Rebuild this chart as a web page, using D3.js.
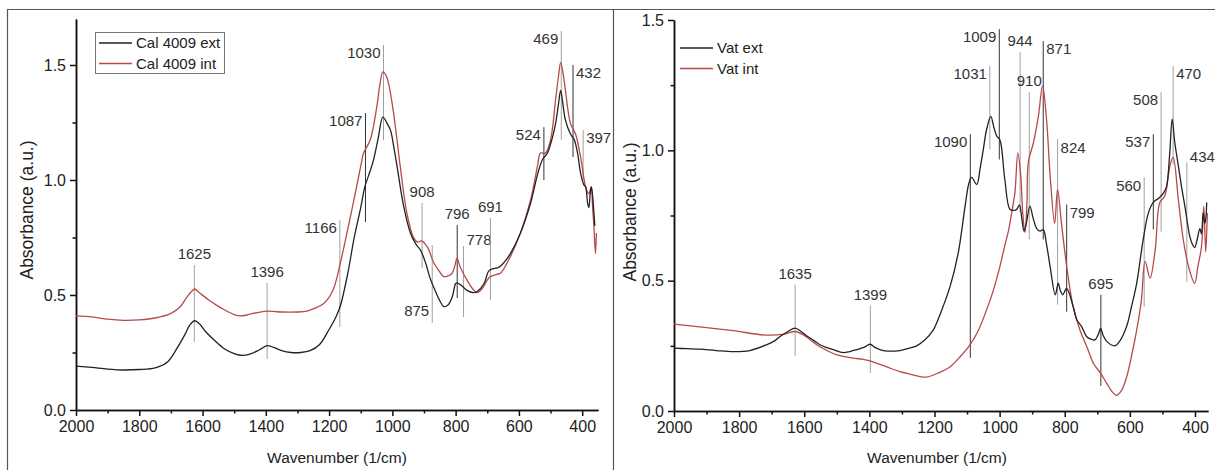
<!DOCTYPE html>
<html lang="en">
<head>
<meta charset="UTF-8">
<title>FTIR spectra</title>
<script src="https://d3js.org/d3.v7.min.js"></script>
<style>
  body { margin: 0; background: #fff; }
  svg { display: block; font-family: "Liberation Sans", Arial, sans-serif; }
  .frame { fill: none; stroke: #555; stroke-width: 1.2px; }
  .axis path, .axis line { stroke: #111; stroke-width: 1.5px; }
  .axis text { font-family: "Liberation Sans Narrow", "Liberation Sans", Arial, sans-serif; font-size: 16px; fill: #222; }
  .spec { fill: none; stroke-width: 1.3px; stroke-linejoin: round; }
  .peak text { font-family: "Liberation Sans Narrow", "Liberation Sans", Arial, sans-serif; font-size: 15px; fill: #333; }
  .legend text { font-size: 15px; fill: #222; }
  .title { font-size: 15.5px; fill: #222; }
  .ytitle { font-size: 17.5px; }
</style>
</head>
<body>
<div id="chart"></div>
<script>
// ---- left panel: Cal 4009, [wavenumber, absorbance]
const calExt = [[2000,0.191],[1950,0.185],[1900,0.178],[1850,0.174],[1800,0.176],[1750,0.183],[1710,0.21],[1680,0.27],[1655,0.33],[1640,0.37],[1625,0.388],[1610,0.375],[1590,0.34],[1560,0.30],[1530,0.265],[1500,0.245],[1480,0.238],[1450,0.243],[1420,0.262],[1396,0.28],[1375,0.272],[1350,0.258],[1320,0.25],[1290,0.25],[1260,0.258],[1230,0.285],[1200,0.35],[1180,0.40],[1165,0.45],[1140,0.60],[1122,0.74],[1100,0.88],[1087,0.97],[1070,1.04],[1059,1.09],[1045,1.18],[1030,1.273],[1018,1.25],[1006,1.217],[995,1.14],[985,1.058],[964,0.884],[943,0.77],[925,0.72],[911,0.695],[895,0.64],[880,0.57],[865,0.52],[850,0.475],[838,0.45],[825,0.455],[811,0.49],[800,0.55],[795,0.553],[785,0.545],[764,0.52],[745,0.51],[732,0.515],[710,0.55],[695,0.605],[680,0.615],[664,0.62],[645,0.645],[627,0.68],[595,0.77],[563,0.90],[540,1.03],[525,1.09],[510,1.117],[495,1.18],[484,1.246],[475,1.33],[468,1.39],[460,1.32],[453,1.26],[437,1.20],[425,1.175],[415,1.12],[405,1.03],[395,0.98],[389,0.97],[383,0.90],[379,0.88],[374,0.95],[371,0.97],[367,0.93],[363,0.86],[360,0.80]];
const calInt = [[2000,0.409],[1950,0.405],[1900,0.395],[1850,0.39],[1800,0.392],[1750,0.40],[1700,0.42],[1670,0.45],[1650,0.49],[1635,0.515],[1625,0.526],[1610,0.51],[1580,0.478],[1555,0.455],[1530,0.435],[1500,0.415],[1480,0.409],[1460,0.413],[1440,0.42],[1410,0.428],[1395,0.43],[1370,0.428],[1350,0.426],[1300,0.426],[1270,0.43],[1250,0.44],[1220,0.46],[1200,0.49],[1185,0.53],[1166,0.63],[1145,0.76],[1122,0.91],[1100,1.06],[1091,1.117],[1070,1.174],[1049,1.32],[1040,1.41],[1030,1.47],[1020,1.455],[1012,1.42],[996,1.29],[975,1.058],[954,0.855],[933,0.75],[920,0.73],[908,0.735],[890,0.71],[869,0.64],[850,0.60],[838,0.58],[820,0.585],[811,0.595],[800,0.64],[796,0.66],[785,0.62],[764,0.565],[745,0.525],[732,0.51],[715,0.53],[700,0.565],[690,0.58],[670,0.59],[658,0.595],[627,0.667],[595,0.77],[563,0.913],[540,1.07],[532,1.117],[516,1.117],[500,1.174],[484,1.35],[475,1.45],[468,1.51],[460,1.46],[453,1.39],[437,1.246],[421,1.20],[405,1.10],[389,0.97],[379,0.94],[374,0.96],[371,0.97],[367,0.88],[363,0.80],[358,0.68],[355,0.77]];

// ---- right panel: Vat
const vatExt = [[2000,0.241],[1960,0.239],[1920,0.237],[1870,0.232],[1818,0.228],[1767,0.232],[1716,0.254],[1690,0.27],[1674,0.286],[1650,0.305],[1628,0.318],[1610,0.305],[1592,0.288],[1570,0.27],[1552,0.254],[1530,0.243],[1511,0.235],[1480,0.224],[1460,0.228],[1439,0.235],[1415,0.245],[1398,0.256],[1380,0.242],[1357,0.232],[1306,0.232],[1280,0.24],[1255,0.25],[1230,0.272],[1204,0.31],[1180,0.38],[1152,0.478],[1127,0.607],[1106,0.786],[1095,0.87],[1086,0.896],[1070,0.869],[1060,0.93],[1050,1.004],[1040,1.08],[1027,1.13],[1018,1.09],[1009,1.055],[999,1.04],[984,0.888],[968,0.773],[955,0.77],[948,0.773],[939,0.79],[932,0.74],[925,0.69],[918,0.72],[907,0.786],[897,0.74],[886,0.70],[876,0.69],[866,0.696],[856,0.64],[845,0.555],[829,0.446],[820,0.49],[813,0.46],[806,0.446],[794,0.47],[774,0.40],[763,0.35],[748,0.324],[733,0.286],[718,0.275],[707,0.273],[695,0.30],[690,0.318],[682,0.29],[671,0.267],[646,0.25],[630,0.27],[610,0.324],[595,0.40],[579,0.49],[559,0.658],[543,0.76],[528,0.80],[508,0.82],[495,0.84],[487,0.863],[478,0.98],[470,1.12],[462,1.03],[451,0.94],[440,0.85],[431,0.786],[416,0.67],[408,0.64],[401,0.627],[393,0.66],[385,0.70],[380,0.68],[375,0.76],[370,0.72],[367,0.735],[364,0.80]];
const vatInt = [[2000,0.333],[1900,0.32],[1818,0.308],[1716,0.291],[1660,0.295],[1628,0.305],[1600,0.29],[1562,0.254],[1530,0.232],[1500,0.215],[1450,0.203],[1420,0.198],[1398,0.192],[1370,0.18],[1340,0.166],[1306,0.151],[1270,0.14],[1244,0.132],[1224,0.13],[1190,0.145],[1152,0.17],[1120,0.21],[1091,0.254],[1065,0.31],[1040,0.388],[1020,0.46],[999,0.555],[985,0.63],[973,0.69],[963,0.76],[953,0.838],[944,0.99],[935,0.90],[929,0.76],[922,0.685],[916,0.80],[912,0.953],[896,1.03],[881,1.13],[868,1.247],[856,1.12],[844,0.888],[831,0.72],[822,0.85],[810,0.72],[794,0.555],[774,0.40],[753,0.31],[730,0.24],[712,0.183],[690,0.145],[671,0.106],[655,0.075],[641,0.06],[625,0.08],[610,0.13],[595,0.21],[579,0.31],[565,0.42],[553,0.574],[538,0.51],[522,0.62],[508,0.80],[493,0.824],[477,0.94],[467,0.973],[451,0.81],[436,0.658],[420,0.555],[401,0.49],[391,0.555],[380,0.63],[373,0.786],[367,0.61],[362,0.76]];

// peak markers (line position in 1/cm, line extent in absorbance, label side)
const calPeakLabels = ["1625","1396","1166","1087","1030","908","875","796","778","691","524","469","432","397"];
const calPeakAt     = [1626,1396,1166,1085,1028,906,874,795,775,690,521,466,429,397];
const calPeakTop    = [0.63,0.552,0.826,1.291,1.587,0.90,0.717,0.804,0.713,0.835,1.23,1.648,1.50,1.217];
const calPeakBottom = [0.296,0.222,0.361,0.817,1.174,0.617,0.378,0.487,0.404,0.478,1.0,1.174,1.10,1.0];
const calPeakSide   = ["c","c","l","l","l","c","lb","c","ra","c","l","l","r","r"];
const calPeakDark   = ["1087","796","524","432"];

const vatPeakLabels = ["1635","1399","1090","1031","1009","944","910","871","824","799","695","560","537","508","470","434"];
const vatPeakAt     = [1628,1397,1090,1030,1001,937,909,866,822,794,689,556,528,504,467,425];
const vatPeakTop    = [0.485,0.404,1.062,1.323,1.465,1.377,1.223,1.419,1.042,0.792,0.446,0.896,1.062,1.223,1.323,0.954];
const vatPeakBottom = [0.212,0.146,0.204,1.004,0.965,0.762,0.658,0.658,0.408,0.381,0.096,0.40,0.696,0.688,0.946,0.496];
const vatPeakSide   = ["c","c","l","l","l","c","c","r","r","r","c","l","l","l","r","ra"];
const vatPeakDark   = ["1090","1009","799","695","537","871"];

const xMajor = [2000,1800,1600,1400,1200,1000,800,600,400];
const xMinor = [1900,1700,1500,1300,1100,900,700,500];
const yMajor = [0, 0.5, 1.0, 1.5];
const yMinor = [0.25, 0.75, 1.25];

const extColor = "#222", intColor = "#b8494a";

const W = 1215, H = 470;
const svg = d3.select("#chart").append("svg").attr("width", W).attr("height", H);

svg.append("path").attr("class", "frame")
  .attr("d", "M7.5,470V9.5H1215 M613.5,9.5V470");

const panels = [
  { ext: calExt, int: calInt, names: ["Cal 4009 ext", "Cal 4009 int"], boxed: true,
    xDomain: [2000, 350], yDomain: [0, 1.7], xr: [76, 598], yr: [410, 19],
    peaks: [calPeakLabels, calPeakAt, calPeakTop, calPeakBottom, calPeakSide, calPeakDark],
    legend: { x: 95, y: 32 }, titleX: 337, titleY: 27 },
  { ext: vatExt, int: vatInt, names: ["Vat ext", "Vat int"], boxed: false,
    xDomain: [2000, 360], yDomain: [0, 1.5], xr: [674, 1208], yr: [411, 20],
    peaks: [vatPeakLabels, vatPeakAt, vatPeakTop, vatPeakBottom, vatPeakSide, vatPeakDark],
    legend: { x: 577, y: 37 }, titleX: 937, titleY: 630 }
];

panels.forEach(p => {
  const x = d3.scaleLinear().domain(p.xDomain).range(p.xr);
  const y = d3.scaleLinear().domain(p.yDomain).range(p.yr);
  const g = svg.append("g");

  // minor ticks first, then major axes on top
  g.append("g").attr("class", "axis").attr("transform", `translate(0,${p.yr[0]})`)
    .call(d3.axisBottom(x).tickValues(xMinor).tickSize(3.5).tickSizeOuter(0).tickFormat(""));
  g.append("g").attr("class", "axis").attr("transform", `translate(0,${p.yr[0]})`)
    .call(d3.axisBottom(x).tickValues(xMajor).tickSize(6).tickSizeOuter(0).tickPadding(5).tickFormat(d3.format("d")));
  g.append("g").attr("class", "axis").attr("transform", `translate(${p.xr[0]},0)`)
    .call(d3.axisLeft(y).tickValues(yMinor).tickSize(3.5).tickSizeOuter(0).tickFormat(""));
  g.append("g").attr("class", "axis").attr("transform", `translate(${p.xr[0]},0)`)
    .call(d3.axisLeft(y).tickValues(yMajor).tickSize(6).tickSizeOuter(0).tickPadding(4).tickFormat(d3.format(".1f")));

  // peak marker lines + labels
  const [labs, at, top, bot, side, dark] = p.peaks;
  const pk = g.append("g").attr("class", "peak");
  labs.forEach((lab, i) => {
    const lx = x(at[i]), yt = y(top[i]), yb = y(bot[i]);
    pk.append("line").attr("x1", lx).attr("x2", lx).attr("y1", yt).attr("y2", yb)
      .attr("stroke", dark.includes(lab) ? "#333" : "#a0a0a0").attr("stroke-width", 1);
    let tx = lx, ty = yt - 11, anchor = "middle";
    if (side[i] === "l") { tx = lx - 3; ty = yt + 8; anchor = "end"; }
    if (side[i] === "r") { tx = lx + 3; ty = yt + 8; anchor = "start"; }
    if (side[i] === "ra") { tx = lx + 3; ty = yt - 6; anchor = "start"; }
    if (side[i] === "lb") { tx = lx - 3; ty = yb - 12; anchor = "end"; }
    pk.append("text").attr("x", tx).attr("y", ty).attr("dy", "0.35em")
      .attr("text-anchor", anchor).text(lab);
  });

  // spectra
  const line = d3.line().x(d => x(d[0])).y(d => y(d[1])).curve(d3.curveCatmullRom.alpha(0.5));
  g.append("path").datum(p.int).attr("class", "spec").attr("stroke", intColor).attr("d", line);
  g.append("path").datum(p.ext).attr("class", "spec").attr("stroke", extColor).attr("d", line);

  // legend
  const lg = g.append("g").attr("class", "legend").attr("transform", `translate(${p.legend.x},${p.legend.y})`);
  if (p.boxed) {
    lg.append("rect").attr("x", 0.5).attr("y", 0.5).attr("width", 129).attr("height", 41)
      .attr("fill", "#fff").attr("stroke", "#777");
  }
  const ox = p.boxed ? 0 : 99;
  [extColor, intColor].forEach((c, i) => {
    const ly = 11 + i * 20.5;
    lg.append("line").attr("x1", ox + 4).attr("x2", ox + 37).attr("y1", ly).attr("y2", ly)
      .attr("stroke", c).attr("stroke-width", 1.3);
    lg.append("text").attr("x", ox + 41).attr("y", ly).attr("dy", "0.36em").text(p.names[i]);
  });

  // axis titles
  g.append("text").attr("class", "title").attr("x", p.titleX).attr("y", 458).attr("dy", "0.35em")
    .attr("text-anchor", "middle").text("Wavenumber (1/cm)");
  g.append("text").attr("class", "title ytitle")
    .attr("transform", `translate(${p.titleY},${p.boxed ? 210 : 212}) rotate(-90)`)
    .attr("dy", "0.35em").attr("text-anchor", "middle").text("Absorbance (a.u.)");
});
</script>
</body>
</html>
